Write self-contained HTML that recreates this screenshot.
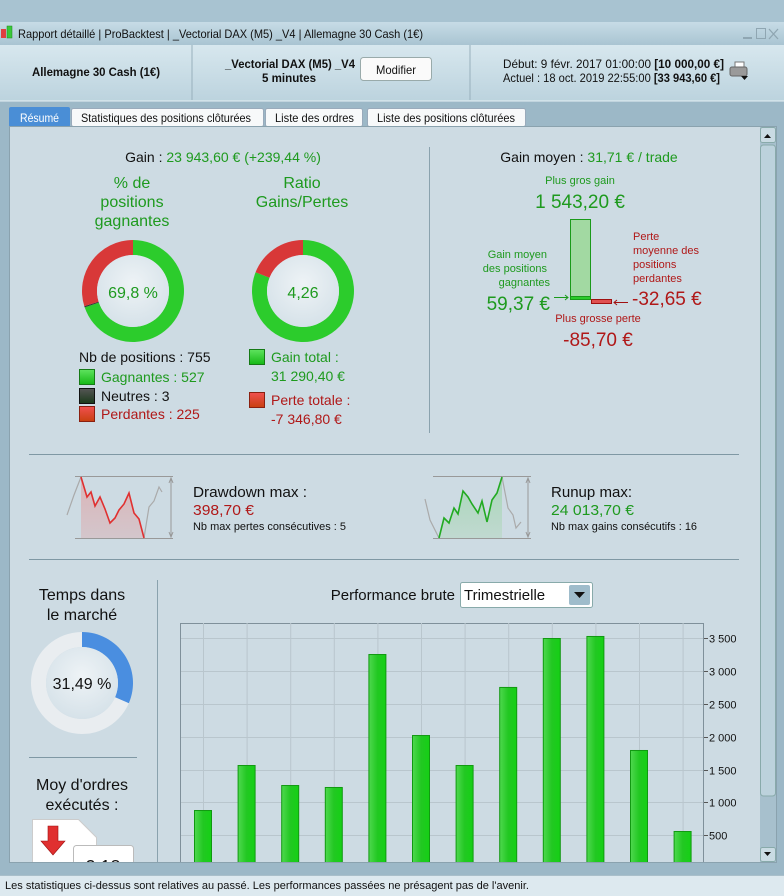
<!DOCTYPE html>
<html><head><meta charset="utf-8">
<style>
html,body{margin:0;padding:0;background:#9cb8c7;}
svg{display:block;font-family:"Liberation Sans",Arial,sans-serif;}
</style></head>
<body>
<svg id="root" width="784" height="896" viewBox="0 0 784 896">
<defs>
<linearGradient id="hdr" x1="0" y1="0" x2="0" y2="1"><stop offset="0" stop-color="#d7e7ee"/><stop offset="1" stop-color="#bcd3de"/></linearGradient>
<linearGradient id="title" x1="0" y1="0" x2="0" y2="1"><stop offset="0" stop-color="#c7dce6"/><stop offset="1" stop-color="#a9c4d2"/></linearGradient>
<linearGradient id="bar" x1="0" y1="0" x2="1" y2="0"><stop offset="0" stop-color="#4fd84f"/><stop offset="0.5" stop-color="#22c822"/><stop offset="1" stop-color="#15d015"/></linearGradient>
<linearGradient id="gsq" x1="0" y1="0" x2="0" y2="1"><stop offset="0" stop-color="#5fe35f"/><stop offset="1" stop-color="#15b815"/></linearGradient>
<linearGradient id="rsq" x1="0" y1="0" x2="0" y2="1"><stop offset="0" stop-color="#f05050"/><stop offset="1" stop-color="#c84010"/></linearGradient>
<linearGradient id="ksq" x1="0" y1="0" x2="0" y2="1"><stop offset="0" stop-color="#555"/><stop offset="1" stop-color="#1a3a1a"/></linearGradient>
<radialGradient id="inner" cx="0.5" cy="0.4" r="0.6"><stop offset="0" stop-color="#eef3f6"/><stop offset="1" stop-color="#d6e2e9"/></radialGradient>
<linearGradient id="ddf" x1="0" y1="0" x2="0" y2="1"><stop offset="0" stop-color="#e39a9a" stop-opacity="0.6"/><stop offset="1" stop-color="#d8b8bc" stop-opacity="0.6"/></linearGradient>
<linearGradient id="ruf" x1="0" y1="0" x2="0" y2="1"><stop offset="0" stop-color="#8fd39a" stop-opacity="0.6"/><stop offset="1" stop-color="#b8d8c4" stop-opacity="0.6"/></linearGradient>
<clipPath id="contentclip"><rect x="10" y="127" width="750" height="735"/></clipPath>
</defs>

<rect x="0" y="0" width="784" height="22" fill="#a8c3d1"/>
<rect x="0" y="22" width="784" height="23" fill="url(#title)"/>
<g><rect x="1" y="29" width="5" height="9" fill="#e04040"/><rect x="7" y="26" width="5" height="12" fill="#3ac83a" stroke="#1a8a1a" stroke-width="0.5"/></g>
<text x="18" y="38" font-size="12" textLength="405" lengthAdjust="spacingAndGlyphs" fill="#111">Rapport détaillé | ProBacktest | _Vectorial DAX (M5) _V4 | Allemagne 30 Cash (1€)</text>
<rect x="743" y="37" width="9" height="2" fill="#8fa6b2"/>
<rect x="756.5" y="28.5" width="9" height="10" fill="none" stroke="#8fa6b2"/>
<path d="M769 29 l9 10 M778 29 l-9 10" stroke="#8fa6b2" stroke-width="1.3"/>

<rect x="0" y="45" width="784" height="56" fill="url(#hdr)"/>
<line x1="192" y1="45" x2="192" y2="100" stroke="#98b0bc"/>
<line x1="470" y1="45" x2="470" y2="100" stroke="#98b0bc"/>
<text x="32" y="76" font-size="12" font-weight="bold" textLength="128" lengthAdjust="spacingAndGlyphs" fill="#111">Allemagne 30 Cash (1€)</text>
<text x="225" y="68" font-size="12" font-weight="bold" textLength="130" lengthAdjust="spacingAndGlyphs" fill="#111">_Vectorial DAX (M5) _V4</text>
<text x="262" y="82" font-size="12" font-weight="bold" textLength="54" lengthAdjust="spacingAndGlyphs" fill="#111">5 minutes</text>
<g><rect x="360.5" y="57.5" width="71" height="23" rx="3" fill="#fafafa" stroke="#9aa"/><text x="376" y="74" font-size="12" textLength="40" lengthAdjust="spacingAndGlyphs" fill="#111">Modifier</text></g>
<text x="503" y="68" font-size="12" textLength="221" lengthAdjust="spacingAndGlyphs" fill="#111">Début:   9 févr. 2017 01:00:00  <tspan font-weight="bold">[10 000,00 €]</tspan></text>
<text x="503" y="82" font-size="12" textLength="217" lengthAdjust="spacingAndGlyphs" fill="#111">Actuel : 18 oct. 2019 22:55:00  <tspan font-weight="bold">[33 943,60 €]</tspan></text>
<g><rect x="735" y="62" width="9" height="6" fill="#fff" stroke="#777"/><rect x="730" y="67" width="17" height="9" rx="2" fill="#9a9a9a" stroke="#666"/><path d="M741 76 h7 l-3.5 4z" fill="#111"/></g>
<line x1="0" y1="101" x2="784" y2="101" stroke="#e6f0f4"/>

<g><rect x="9" y="107" width="61" height="20" rx="2" fill="#4a8ed6"/><text x="20" y="122" font-size="12" textLength="39" lengthAdjust="spacingAndGlyphs" fill="#fff">Résumé</text></g>
<g><rect x="71.5" y="108.5" width="192" height="18" rx="2" fill="#f7f9fa" stroke="#9ab"/><text x="81" y="122" font-size="12" textLength="170" lengthAdjust="spacingAndGlyphs" fill="#111">Statistiques des positions clôturées</text></g>
<g><rect x="265.5" y="108.5" width="97" height="18" rx="2" fill="#f7f9fa" stroke="#9ab"/><text x="275" y="122" font-size="12" textLength="79" lengthAdjust="spacingAndGlyphs" fill="#111">Liste des ordres</text></g>
<g><rect x="367.5" y="108.5" width="158" height="18" rx="2" fill="#f7f9fa" stroke="#9ab"/><text x="377" y="122" font-size="12" textLength="138" lengthAdjust="spacingAndGlyphs" fill="#111">Liste des positions clôturées</text></g>

<rect x="9.5" y="126.5" width="767" height="736" fill="#cddbe3" stroke="#8aa2ae"/>
<g>
<rect x="760" y="127" width="16" height="735" fill="#a7c0cd"/>
<rect x="760.5" y="127.5" width="15" height="15" rx="2" fill="#c9dbe3" stroke="#8aa"/><path d="M764 138 h7 l-3.5 -4z" fill="#111"/>
<rect x="760.5" y="145" width="15" height="651" rx="3" fill="#bcd2dc" stroke="#8aa"/>
<rect x="760.5" y="847.5" width="15" height="14" rx="2" fill="#c9dbe3" stroke="#8aa"/><path d="M764 852 h7 l-3.5 4z" fill="#111"/>
</g>

<text x="223" y="162" font-size="14" text-anchor="middle" fill="#111">Gain : <tspan fill="#1e9a1e">23 943,60 € (+239,44 %)</tspan></text>
<text x="132" y="188" font-size="16" text-anchor="middle" fill="#1e9a1e"><tspan x="132">% de</tspan><tspan x="132" dy="19">positions</tspan><tspan x="132" dy="19">gagnantes</tspan></text>
<text x="302" y="188" font-size="16" text-anchor="middle" fill="#1e9a1e"><tspan x="302">Ratio</tspan><tspan x="302" dy="19">Gains/Pertes</tspan></text>
<g id="donut1"></g>
<text x="133" y="298" font-size="16" text-anchor="middle" fill="#1e9a1e">69,8 %</text>
<g id="donut2"></g>
<text x="303" y="298" font-size="16" text-anchor="middle" fill="#1e9a1e">4,26</text>

<text x="79" y="362" font-size="14" fill="#111">Nb de positions : 755</text>
<rect x="79.5" y="369.5" width="15" height="15" fill="url(#gsq)" stroke="#157a15"/>
<text x="101" y="382" font-size="14" fill="#1e9a1e">Gagnantes : 527</text>
<rect x="79.5" y="388.5" width="15" height="15" fill="url(#ksq)" stroke="#111"/>
<text x="101" y="401" font-size="14" fill="#111">Neutres : 3</text>
<rect x="79.5" y="406.5" width="15" height="15" fill="url(#rsq)" stroke="#8a2010"/>
<text x="101" y="419" font-size="14" fill="#b01818">Perdantes : 225</text>
<rect x="249.5" y="349.5" width="15" height="15" fill="url(#gsq)" stroke="#157a15"/>
<text x="271" y="362" font-size="14" fill="#1e9a1e"><tspan x="271">Gain total :</tspan><tspan x="271" dy="19">31 290,40 €</tspan></text>
<rect x="249.5" y="392.5" width="15" height="15" fill="url(#rsq)" stroke="#8a2010"/>
<text x="271" y="405" font-size="14" fill="#b01818"><tspan x="271">Perte totale :</tspan><tspan x="271" dy="19">-7 346,80 €</tspan></text>
<line x1="429.5" y1="147" x2="429.5" y2="433" stroke="#8aa2ae"/>

<text x="589" y="162" font-size="14" text-anchor="middle" fill="#111">Gain moyen : <tspan fill="#1e9a1e">31,71 € / trade</tspan></text>
<text x="580" y="184" font-size="11" text-anchor="middle" fill="#1e9a1e">Plus gros gain</text>
<text x="580" y="208" font-size="19" text-anchor="middle" fill="#1e9a1e">1 543,20 €</text>
<rect x="570.5" y="219.5" width="20" height="80" fill="#a2d9a2" stroke="#1a9a1a"/>
<rect x="570.5" y="296.5" width="20" height="3" fill="#2ccc2c" stroke="#1a9a1a"/>
<rect x="591.5" y="299.5" width="20" height="4" fill="#e05050" stroke="#a01010"/>
<text x="547" y="258" font-size="11" text-anchor="end" fill="#1e9a1e"><tspan x="547">Gain moyen</tspan><tspan x="547" dy="14">des positions</tspan><tspan x="550" dy="14">gagnantes</tspan></text>
<text x="550" y="310" font-size="19" text-anchor="end" fill="#1e9a1e">59,37 €</text>
<path d="M554 297.5 h14 M565 295 l3 2.5 l-3 2.5" stroke="#1a9a1a" fill="none"/>
<text x="633" y="240" font-size="11" fill="#b01818"><tspan x="633">Perte</tspan><tspan x="633" dy="14">moyenne des</tspan><tspan x="633" dy="14">positions</tspan><tspan x="633" dy="14">perdantes</tspan></text>
<text x="632" y="305" font-size="19" fill="#b01818">-32,65 €</text>
<path d="M628 302.5 h-14 M617 300 l-3 2.5 l3 2.5" stroke="#a01010" fill="none"/>
<text x="598" y="322" font-size="11" text-anchor="middle" fill="#b01818">Plus grosse perte</text>
<text x="598" y="346" font-size="19" text-anchor="middle" fill="#b01818">-85,70 €</text>

<line x1="29" y1="454.5" x2="739" y2="454.5" stroke="#7f98a4"/>
<line x1="29" y1="559.5" x2="739" y2="559.5" stroke="#7f98a4"/>
<g>
<line x1="75" y1="476.5" x2="173" y2="476.5" stroke="#999"/><line x1="75" y1="538.5" x2="173" y2="538.5" stroke="#999"/>
<polygon points="81,477 87,497 91,492 95,506 100,497 105,509 110,523 115,518 119,510 124,504 129,493 134,513 139,519 144,538 81,538" fill="url(#ddf)"/>
<polyline points="67,515 74,495 81,477" fill="none" stroke="#aaa" stroke-width="1.2"/>
<polyline points="144,538 149,507 154,501 159,487 162,492" fill="none" stroke="#aaa" stroke-width="1.2"/>
<polyline points="81,477 87,497 91,492 95,506 100,497 105,509 110,523 115,518 119,510 124,504 129,493 134,513 139,519 144,538" fill="none" stroke="#e03030" stroke-width="1.6"/>
<path d="M171 478 v59 M169 483 l2 -5 l2 5 M169 532 l2 5 l2 -5" stroke="#999" fill="none"/>
</g>
<text x="193" y="497" font-size="15" textLength="114" lengthAdjust="spacingAndGlyphs" fill="#111">Drawdown max :</text>
<text x="193" y="515" font-size="15" textLength="61" lengthAdjust="spacingAndGlyphs" fill="#b01818">398,70 €</text>
<text x="193" y="530" font-size="11" textLength="153" lengthAdjust="spacingAndGlyphs" fill="#111">Nb max pertes consécutives : 5</text>
<g>
<line x1="433" y1="476.5" x2="531" y2="476.5" stroke="#999"/><line x1="433" y1="538.5" x2="531" y2="538.5" stroke="#999"/>
<polygon points="439,538 444,518 449,523 454,508 458,514 463,491 468,497 472,504 478,513 482,501 487,522 492,500 497,493 502,477 502,538" fill="url(#ruf)"/>
<polyline points="425,499 430,520 439,538" fill="none" stroke="#aaa" stroke-width="1.2"/>
<polyline points="502,477 508,508 513,515 516,528 521,522" fill="none" stroke="#aaa" stroke-width="1.2"/>
<polyline points="439,538 444,518 449,523 454,508 458,514 463,491 468,497 472,504 478,513 482,501 487,522 492,500 497,493 502,477" fill="none" stroke="#22aa22" stroke-width="1.6"/>
<path d="M528 478 v59 M526 483 l2 -5 l2 5 M526 532 l2 5 l2 -5" stroke="#999" fill="none"/>
</g>
<text x="551" y="497" font-size="15" textLength="81" lengthAdjust="spacingAndGlyphs" fill="#111">Runup max:</text>
<text x="551" y="515" font-size="15" textLength="83" lengthAdjust="spacingAndGlyphs" fill="#1e9a1e">24 013,70 €</text>
<text x="551" y="530" font-size="11" textLength="146" lengthAdjust="spacingAndGlyphs" fill="#111">Nb max gains consécutifs : 16</text>

<line x1="157.5" y1="580" x2="157.5" y2="862" stroke="#8aa2ae"/>
<text x="82" y="600" font-size="16" text-anchor="middle" fill="#111"><tspan x="82">Temps dans</tspan><tspan x="82" dy="20">le marché</tspan></text>
<g id="donut3"></g>
<text x="82" y="689" font-size="16" text-anchor="middle" fill="#111">31,49 %</text>
<line x1="29" y1="757.5" x2="137" y2="757.5" stroke="#7f98a4"/>
<text x="82" y="790" font-size="16" text-anchor="middle" fill="#111"><tspan x="82">Moy d'ordres</tspan><tspan x="82" dy="20">exécutés :</tspan></text>
<g clip-path="url(#contentclip)">
<path d="M32.5 819.5 h46 l18 18 v25 h-64z" fill="#fff" stroke="#ccc"/>
<path d="M48 826 h10 v15 h7 l-12 14 l-12 -14 h7z" fill="#e03030" stroke="#a01010" stroke-width="0.6"/>
<rect x="73.5" y="845.5" width="60" height="20" rx="3" fill="#fff" stroke="#bbb"/>
<text x="103" y="873" font-size="18" text-anchor="middle" fill="#111">2,18</text>
</g>

<text x="455" y="600" font-size="15" text-anchor="end" fill="#111">Performance brute</text>
<g>
<rect x="460.5" y="582.5" width="132" height="25" rx="2" fill="#fff" stroke="#8aa"/>
<text x="464" y="600" font-size="15" fill="#111">Trimestrielle</text>
<rect x="569" y="585" width="21" height="20" rx="2" fill="#9fbccb"/><path d="M574 592 h11 l-5.5 6z" fill="#111"/>
</g>
<clipPath id="plotclip"><rect x="180" y="623" width="524" height="239"/></clipPath>
<g id="chart">
<rect x="180.5" y="623.5" width="523" height="250" fill="#cddbe3" stroke="#7f909a" clip-path="url(#plotclip)"/>
<g id="grid" clip-path="url(#plotclip)"></g>
<g id="bars" clip-path="url(#plotclip)"></g>
<g id="yaxis"></g>
</g>
<line x1="10" y1="862.5" x2="776" y2="862.5" stroke="#8aa2ae"/>

<rect x="0" y="875" width="784" height="21" fill="#dde9ef"/>
<line x1="0" y1="875.5" x2="784" y2="875.5" stroke="#a9bfca"/>
<text x="5" y="889" font-size="11" textLength="524" lengthAdjust="spacingAndGlyphs" fill="#111">Les statistiques ci-dessus sont relatives au passé. Les performances passées ne présagent pas de l'avenir.</text>
</svg>
<script>
const quarters = ["T1-2017","T2-2017","T3-2017","T4-2017","T1-2018","T2-2018","T3-2018","T4-2018","T1-2019","T2-2019","T3-2019","T4-2019"];
const performance = [884, 1570, 1265, 1235, 3262, 2027, 1570, 2760, 3506, 3537, 1799, 564];
const yTicks = [500, 1000, 1500, 2000, 2500, 3000, 3500];
const yTickLabels = ["500","1 000","1 500","2 000","2 500","3 000","3 500"];
const winCounts = [527, 3, 225];
const gainLoss = [31290.40, 7346.80];
const timeInMarket = [31.49];

const NS = "http://www.w3.org/2000/svg";
function mk(tag, attrs, parent){const e=document.createElementNS(NS,tag);for(const k in attrs)e.setAttribute(k,attrs[k]);parent.appendChild(e);return e;}
const xStep = 43.6, xFirst = 203;
function xPos(i){return xFirst + i*xStep;}
function yPos(v){return 868 - v*0.0656;}

const grid = document.getElementById('grid'), bars = document.getElementById('bars'), yaxis = document.getElementById('yaxis');
quarters.forEach((q,i)=>{
  const l = mk('line',{x1:xPos(i)+0.5,x2:xPos(i)+0.5,y1:623,y2:870,stroke:'#b9c6cd'},grid);
  
  
});
yTicks.forEach((t,i)=>{
  const y = Math.round(yPos(t))+0.5;
  const l = mk('line',{x1:181,x2:703,y1:y,y2:y,stroke:'#b9c6cd'},grid);
  
  
  const tk = mk('line',{x1:704,x2:708,y1:y,y2:y,stroke:'#555'},yaxis);
  
  
  const tx = mk('text',{x:709,y:y+4,'font-size':11,fill:'#111'},yaxis);
  tx.textContent = yTickLabels[i];
  
  
});
performance.forEach((v,i)=>{
  const top = yPos(v);
  const r = mk('rect',{x:xPos(i)-9+0.5,y:top+0.5,width:17,height:880-top,fill:'url(#bar)',stroke:'#119911'},bars);
  
  
});

function arcPath(cx,cy,ro,ri,a0,a1){
  const p=(a,r)=>[cx+r*Math.sin(a),cy-r*Math.cos(a)];
  const large=(a1-a0)>Math.PI?1:0;
  const [x1,y1]=p(a0,ro),[x2,y2]=p(a1,ro),[x3,y3]=p(a1,ri),[x4,y4]=p(a0,ri);
  return `M${x1} ${y1} A${ro} ${ro} 0 ${large} 1 ${x2} ${y2} L${x3} ${y3} A${ri} ${ri} 0 ${large} 0 ${x4} ${y4}Z`;
}
function donut(id,cx,cy,values,colors,names){
  const g=document.getElementById(id);
  const tot=values.reduce((a,b)=>a+b,0);
  let a=0;
  values.forEach((v,i)=>{
    const a1=a+v/tot*2*Math.PI*0.99999;
    const p=mk('path',{d:arcPath(cx,cy,51,36,a,a1),fill:colors[i]},g);
    
    
    a=a1;
  });
  const c=mk('circle',{cx:cx,cy:cy,r:36,fill:'url(#inner)'},g);
  
  
}
donut('donut1',133,291,winCounts,['#2ccc2c','#333','#d83838'],['winners-slice','neutral-slice','losers-slice']);
donut('donut2',303,291,gainLoss,['#2ccc2c','#d83838'],['gain-slice','loss-slice']);
donut('donut3',82,683,[timeInMarket[0],100-timeInMarket[0]],['#4a8ee0','#e9edf0'],['in-market-slice','out-market-slice']);
</script>
</body></html>
